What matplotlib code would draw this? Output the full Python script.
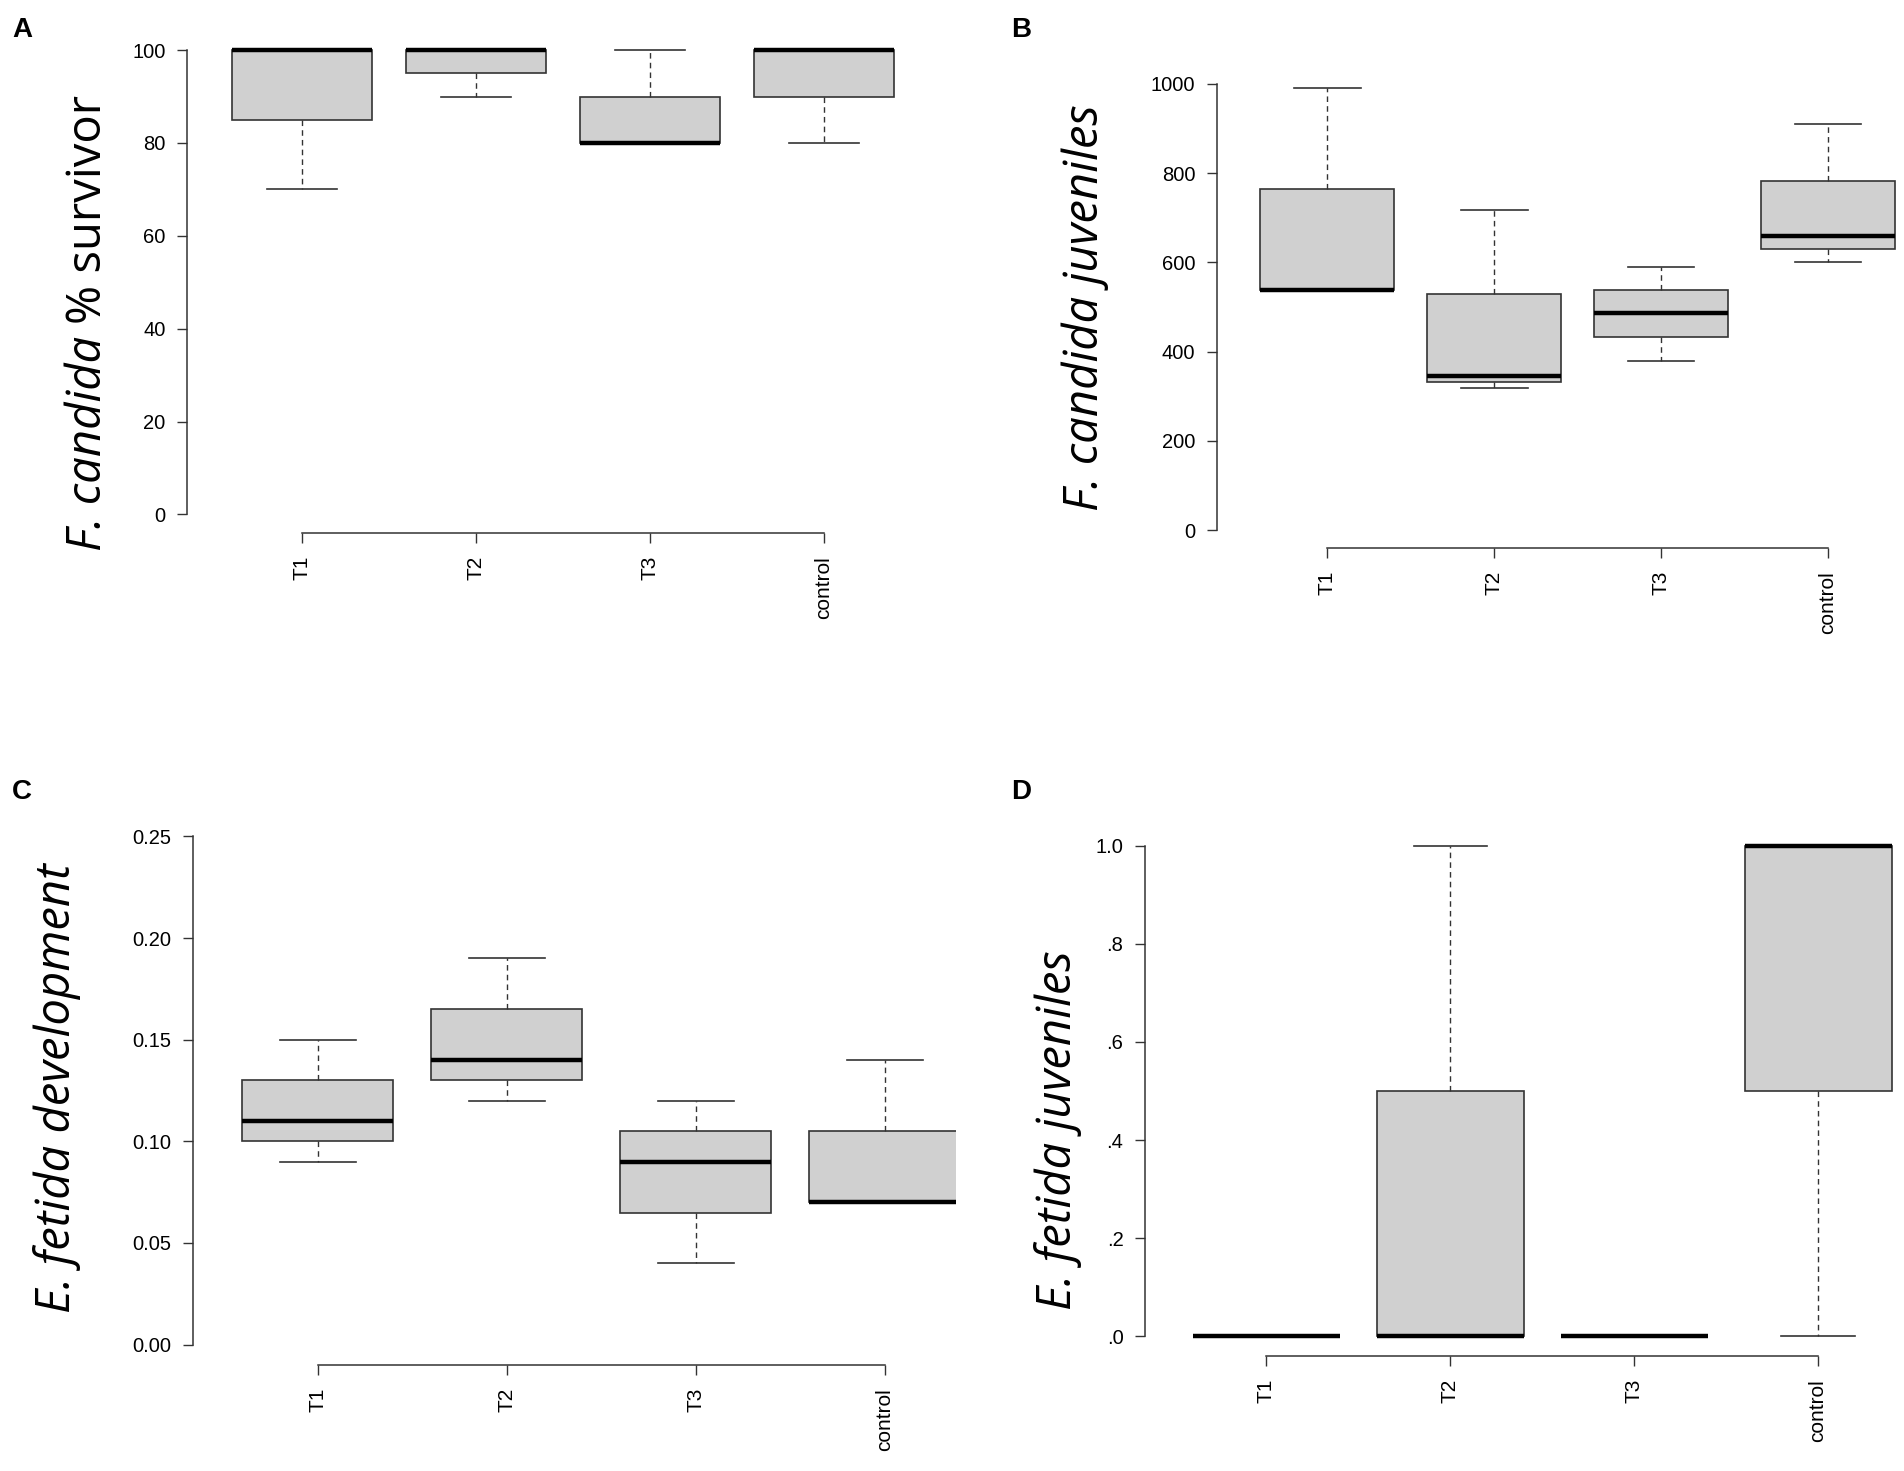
import matplotlib
matplotlib.use("Agg")
import matplotlib.pyplot as plt

# treatment groups (shared by all panels)
groups = ["T1", "T2", "T3", "control"]

# A: F. candida % survivor
a_low = [70, 90, 80, 80]
a_q1 = [85, 95, 80, 90]
a_med = [100, 100, 80, 100]
a_q3 = [100, 100, 90, 100]
a_high = [100, 100, 100, 100]

# B: F. candida juveniles
b_low = [535, 318, 378, 600]
b_q1 = [537, 332, 432, 629]
b_med = [537, 345, 486, 658]
b_q3 = [765, 530, 537, 783]
b_high = [990, 717, 590, 909]

# C: E. fetida development
c_low = [0.09, 0.12, 0.04, 0.07]
c_q1 = [0.10, 0.13, 0.065, 0.07]
c_med = [0.11, 0.14, 0.09, 0.07]
c_q3 = [0.13, 0.165, 0.105, 0.105]
c_high = [0.15, 0.19, 0.12, 0.14]

# D: E. fetida juveniles
d_low = [0, 0, 0, 0]
d_q1 = [0, 0, 0, 0.5]
d_med = [0, 0, 0, 1.0]
d_q3 = [0, 0.5, 0, 1.0]
d_high = [0, 1.0, 0, 1.0]

a_ticks = [0, 20, 40, 60, 80, 100]
b_ticks = [0, 200, 400, 600, 800, 1000]
c_ticks = [0.00, 0.05, 0.10, 0.15, 0.20, 0.25]
c_ticklabels = ["0.00", "0.05", "0.10", "0.15", "0.20", "0.25"]
d_ticks = [0, 0.2, 0.4, 0.6, 0.8, 1.0]
d_ticklabels = [".0", ".2", ".4", ".6", ".8", "1.0"]

plt.rcParams["font.family"] = ["Liberation Sans", "DejaVu Sans"]

W, H = 1904, 1471
fig = plt.figure(figsize=(W / 100, H / 100), dpi=100)

AX_COLOR = "#333333"
BOX_FILL = "#d0d0d0"


def px_axes(left, right, top, bottom):
    return fig.add_axes([left / W, 1 - bottom / H, (right - left) / W, (bottom - top) / H])


def draw_panel(ax, low, q1, med, q3, high, ylim, ybounds, ticks, ticklabels, xright):
    stats = [
        {"whislo": lo, "q1": a, "med": m, "q3": b, "whishi": hi, "label": g}
        for g, lo, a, m, b, hi in zip(groups, low, q1, med, q3, high)
    ]
    ax.bxp(
        stats,
        positions=[1, 2, 3, 4],
        widths=0.8,
        capwidths=0.4,
        showfliers=False,
        patch_artist=True,
        boxprops=dict(facecolor=BOX_FILL, edgecolor=AX_COLOR, linewidth=1.2),
        medianprops=dict(color="black", linewidth=3.2, solid_capstyle="butt"),
        whiskerprops=dict(color=AX_COLOR, linewidth=1.0, linestyle=(0, (4, 3))),
        capprops=dict(color=AX_COLOR, linewidth=1.2),
    )
    ax.set_xlim(0.34, xright)
    ax.set_ylim(*ylim)
    for side in ("top", "right"):
        ax.spines[side].set_visible(False)
    for side in ("left", "bottom"):
        ax.spines[side].set_color(AX_COLOR)
        ax.spines[side].set_linewidth(1.1)
    ax.spines["left"].set_bounds(*ybounds)
    ax.spines["bottom"].set_bounds(1, 4)
    ax.set_xticks([1, 2, 3, 4])
    ax.set_xticklabels(groups, rotation=90, fontsize=15, va="top")
    ax.set_yticks(ticks)
    ax.set_yticklabels(ticklabels, fontsize=14.5)
    ax.tick_params(axis="both", direction="out", length=7.5, width=1.0, color=AX_COLOR)
    ax.tick_params(axis="y", pad=8)
    ax.tick_params(axis="x", pad=9)
    ax.set_facecolor("none")


ax_a = px_axes(187, 939, 31.5, 533)
draw_panel(ax_a, a_low, a_q1, a_med, a_q3, a_high, (-4, 104), (0, 100),
           a_ticks, [str(t) for t in a_ticks], 4.66)

ax_b = px_axes(1217, 1904, 66, 548)
draw_panel(ax_b, b_low, b_q1, b_med, b_q3, b_high, (-40, 1040), (0, 1000),
           b_ticks, [str(t) for t in b_ticks], 4.455)

ax_c = px_axes(193, 956, 816, 1365)
draw_panel(ax_c, c_low, c_q1, c_med, c_q3, c_high, (-0.01, 0.26), (0, 0.25),
           c_ticks, c_ticklabels, 4.376)

ax_d = px_axes(1145, 1904, 826, 1356)
draw_panel(ax_d, d_low, d_q1, d_med, d_q3, d_high, (-0.04, 1.04), (0, 1.0),
           d_ticks, d_ticklabels, 4.467)

# y-axis titles
label_kw = dict(rotation=90, fontsize=34, family=["Open Sans", "DejaVu Sans"])
fig.text(1085 / W, 1 - 308 / H, "F. candida juveniles", style="italic",
         ha="center", va="center", **label_kw)
fig.text(57 / W, 1 - 1088 / H, "E. fetida development", style="italic",
         ha="center", va="center", **label_kw)
fig.text(1058 / W, 1 - 1130 / H, "E. fetida juveniles", style="italic",
         ha="center", va="center", **label_kw)

# panel A title mixes italic and upright text: build it from two pieces
renderer = fig.canvas.get_renderer()
t_it = fig.text(0, 0, "F. candida ", style="italic", ha="right", va="bottom", **label_kw)
t_rm = fig.text(0, 0, "% survivor", ha="right", va="bottom", **label_kw)
h_it = t_it.get_window_extent(renderer).height
h_rm = t_rm.get_window_extent(renderer).height
w_it = t_it.get_window_extent(renderer).width
x_right = 88 + w_it / 2
y_start = H - 323 - (h_it + h_rm) / 2  # bottom of the label, in display pixels from bottom
t_it.set_position((x_right / W, y_start / H))
t_rm.set_position((x_right / W, (y_start + h_it) / H))

# panel letters
for letter, x, y in [("A", 22, 30), ("B", 1021, 30), ("C", 22, 792), ("D", 1021, 792)]:
    fig.text(x / W, 1 - y / H, letter, ha="center", va="center",
             fontsize=20, fontweight="bold")

fig.savefig("out.png", dpi=100)
